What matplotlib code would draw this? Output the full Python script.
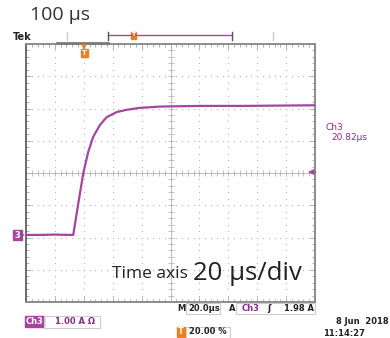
import numpy as np
import matplotlib.pyplot as plt
from matplotlib.patches import Rectangle

# trace (time in us from left edge, current in A above ch3 ground)
time_us = [0, 10, 20, 30, 32.7, 36.2, 39.7, 43.1, 46.6, 51.2, 55.8, 62.8, 69.7,
           78.9, 92.7, 120.4, 150, 175, 200]
current_a = [0.0, 0.0, 0.01, 0.0, 0.0, 0.98, 1.93, 2.58, 3.05, 3.41, 3.65, 3.81, 3.88,
             3.94, 3.98, 4.0, 4.0, 4.01, 4.02]
ch3_offset_div = -1.92
volts_per_div = 1.0
t_per_div = 20

purple = '#a6449f'
txt_purple = '#8a2b86'
orange = '#f07d1e'
grid_col = '#b4b4b4'

plt.rcParams['font.family'] = ['Open Sans', 'DejaVu Sans']

fig = plt.figure(figsize=(3.9, 3.38), dpi=100)
ax = fig.add_axes([26/390, 36/338, 289/390, 258/338])
ax.set_xlim(0, 10*t_per_div)
ax.set_ylim(-4, 4)

# graticule
xmaj = np.arange(0, 10*t_per_div+1, t_per_div)
ymaj = np.arange(-4, 5, 1)
xmin_ = np.arange(0, 10*t_per_div+0.1, t_per_div/5)
ymin_ = np.arange(-4, 4.01, 0.2)
for xv in xmaj[1:-1]:
    if xv != 5*t_per_div:
        ax.plot(np.full(len(ymin_), xv), ymin_, ls='', marker='s', ms=0.8,
                color=grid_col, mew=0)
for yv in ymaj[1:-1]:
    if yv != 0:
        ax.plot(xmin_, np.full(len(xmin_), yv), ls='', marker='s', ms=0.8,
                color=grid_col, mew=0)
ax.axvline(5*t_per_div, color=grid_col, lw=0.6)
ax.axhline(0, color=grid_col, lw=0.6)
ax.plot(xmin_, np.zeros(len(xmin_)), ls='', marker='|', ms=4.5, mew=0.6, color=grid_col)
ax.plot(np.full(len(ymin_), 5*t_per_div), ymin_, ls='', marker='_', ms=4.5, mew=0.6,
        color=grid_col)

ax.set_xticks(xmaj)
ax.set_xticks(xmin_, minor=True)
ax.set_yticks(ymaj)
ax.set_yticks(ymin_, minor=True)
ax.tick_params(which='both', direction='in', top=True, right=True, color='#a0a0a0',
               width=0.6, labelbottom=False, labelleft=False)
ax.tick_params(which='major', length=3.5)
ax.tick_params(which='minor', length=2.5)
for s in ax.spines.values():
    s.set_color('#8c8c8c')
    s.set_linewidth(1.4)
ax.spines['left'].set_color('#6a6a6a')

# trace
yd = np.array(current_a)/volts_per_div + ch3_offset_div
ax.plot(time_us, yd, color=purple, lw=1.6, solid_joinstyle='round', zorder=5)

# overlay for the scope annotations (pixel coords)
ov = fig.add_axes([0, 0, 1, 1], zorder=10)
ov.set_xlim(0, 390)
ov.set_ylim(338, 0)
ov.axis('off')

ov.text(30, 15, '100 μs', fontsize=14, color='#333333', va='center', ha='left')
ov.text(13, 37, 'Tek', fontsize=7, fontweight='bold', color='#222222', va='center',
        family='DejaVu Sans')
ov.plot([57, 108], [42.5, 42.5], color='#7a7a7a', lw=2)
ov.plot([67, 67], [32, 40], color='#cccccc', lw=1)
ov.plot([273, 273], [32, 40], color='#cccccc', lw=1)
ov.plot([108, 232], [35, 35], color=purple, lw=1)
ov.plot([108, 108], [32, 40], color='#555555', lw=1)
ov.plot([232, 232], [32, 40], color='#555555', lw=1)
ov.add_patch(Rectangle((130.5, 31.5), 5, 7, color=orange))
ov.text(133, 35, 'T', fontsize=4.5, color='white', ha='center', va='center',
        fontweight='bold', family='DejaVu Sans')

# trigger position marker
ov.plot([84], [46.5], marker='v', ms=5, color=orange, mew=0)
ov.add_patch(Rectangle((80.5, 48.5), 7, 8, color=orange))
ov.text(84, 52.7, 'T', fontsize=5, color='white', ha='center', va='center',
        fontweight='bold', family='DejaVu Sans')

# ch3 ground marker
ov.add_patch(Rectangle((13, 230), 9, 10, color=purple))
ov.plot([22], [235], marker='>', ms=5, color=purple, mew=0)
ov.text(17.5, 235.3, '3', fontsize=6, color='white', ha='center', va='center',
        fontweight='bold', family='DejaVu Sans')

# trigger level arrow
ov.plot([311], [172], marker='<', ms=5, color=purple, mew=0)
ov.plot([313, 315], [172, 172], color=purple, lw=1)

ov.text(326, 127, 'Ch3', fontsize=6.5, color=txt_purple, va='center', family='DejaVu Sans')
ov.text(331, 137.5, '20.82μs', fontsize=6.5, color=txt_purple, va='center',
        family='DejaVu Sans')

ov.text(112, 274, 'Time axis', fontsize=12.5, color='#222222', va='center')
ov.text(193, 273, '20 μs/div', fontsize=18.5, color='#222222', va='center')

# bottom readouts
small = dict(fontsize=6, fontweight='bold', va='center', family='DejaVu Sans')
ov.add_patch(Rectangle((25, 316), 19, 11, color=purple))
ov.text(34.5, 321.5, 'Ch3', color='white', ha='center', **small)
ov.add_patch(Rectangle((44, 315.5), 56, 12, fill=False, ec='#cccccc', lw=0.8))
ov.text(55, 321.5, '1.00 A Ω', color=txt_purple, **small)

ov.text(177, 308.5, 'M', color='#222222', **small)
ov.add_patch(Rectangle((186, 303), 34, 11, fill=False, ec='#cccccc', lw=0.8))
ov.text(188, 308.5, '20.0μs', color='#222222', **small)
ov.text(229, 308.5, 'A', color='#222222', **small)
ov.add_patch(Rectangle((236, 303), 79, 11, fill=False, ec='#cccccc', lw=0.8))
ov.text(242, 308.5, 'Ch3', color=txt_purple, **small)
ov.text(267, 308.5, 'ʃ', color='#222222', **small)
ov.text(314, 308.5, '1.98 A', color='#222222', ha='right', **small)

ov.add_patch(Rectangle((176.5, 327), 8, 10, color=orange))
ov.text(180.5, 332, 'T', color='white', ha='center', **small)
ov.add_patch(Rectangle((186, 326.5), 44, 11, fill=False, ec='#cccccc', lw=0.8))
ov.text(189, 332, '20.00 %', color='#222222', **small)

ov.text(389, 321.5, '8 Jun  2018', color='#222222', ha='right', **small)
ov.text(323, 333, '11:14:27', color='#222222', ha='left', **small)

fig.savefig('out.png', dpi=100)
